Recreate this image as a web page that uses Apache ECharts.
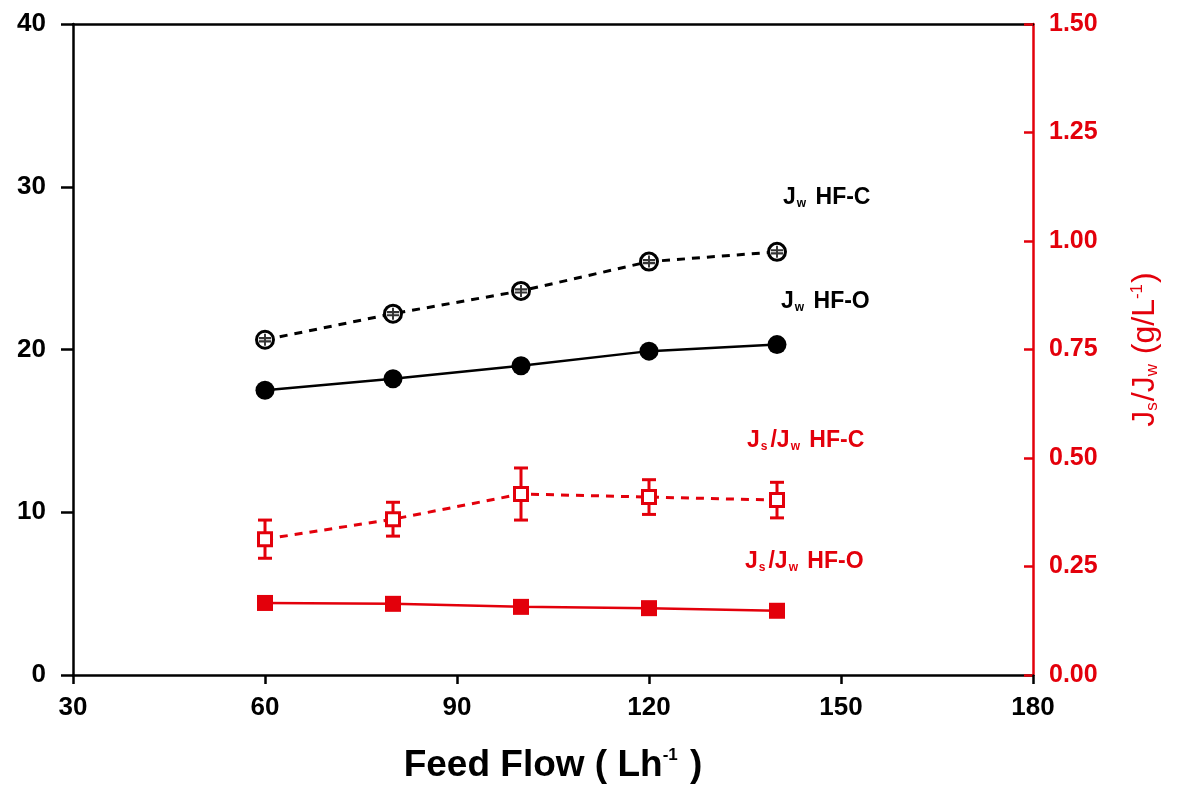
<!DOCTYPE html>
<html>
<head>
<meta charset="utf-8">
<script src="https://cdn.jsdelivr.net/npm/echarts@6/dist/echarts.min.js"></script>
<style>
html,body{margin:0;padding:0;background:#fff;}
#chart{width:1184px;height:787px;}
</style>
</head>
<body>
<div id="chart"></div>
<script>
// ---- data ----
var feedFlow = [60, 80, 100, 120, 140];
var jwHFC = [20.6, 22.2, 23.6, 25.4, 26.0];
var jwHFO = [17.5, 18.2, 19.0, 19.9, 20.3];
var jsjwHFC = [0.313, 0.359, 0.417, 0.410, 0.403];
var jsjwHFCerr = [0.044, 0.039, 0.060, 0.040, 0.041];
var jsjwHFO = [0.166, 0.164, 0.157, 0.154, 0.148];
var xTicks = [30, 60, 90, 120, 150, 180];
var yLeftTicks = [0, 10, 20, 30, 40];
var yRightTicks = [0, 0.25, 0.5, 0.75, 1.0, 1.25, 1.5];

var RED = '#e3000b';
var FONT = '"Liberation Sans", Arial, sans-serif';

function pairs(xs, ys) { return xs.map(function (x, i) { return [x, ys[i]]; }); }
var errData = feedFlow.map(function (x, i) {
  return [x, jsjwHFC[i] - jsjwHFCerr[i], jsjwHFC[i] + jsjwHFCerr[i]];
});

function annot(left, top, parts, color) {
  return { type: 'text', left: left, top: top, style: {
    text: parts,
    rich: {
      t: { fontSize: 23, fontWeight: 'bold', fontFamily: FONT, fill: color },
      s: { fontSize: 12, fontWeight: 'bold', fontFamily: FONT, fill: color, verticalAlign: 'bottom', padding: [12, 3, 0, 1] }
    } } };
}

var chart = echarts.init(document.getElementById('chart'));
var option = {
  backgroundColor: '#fff',
  animation: false,
  grid: { left: 73, right: 151, top: 24, bottom: 112, containLabel: false, outerBoundsMode: 'none' },
  xAxis: [{
    type: 'value', min: xTicks[0], max: xTicks[xTicks.length - 1], interval: 30,
    axisLine: { show: true, onZero: false, lineStyle: { color: '#000', width: 2.5 } },
    axisTick: { show: true, inside: false, length: 9, lineStyle: { color: '#000', width: 2.5 } },
    splitLine: { show: false },
    axisLabel: { color: '#000', fontSize: 26, fontWeight: 'bold', fontFamily: FONT, margin: 20 },
    name: '{t|Feed Flow ( Lh}{s|-1}{t| )}',
    nameLocation: 'middle', nameGap: 72,
    nameTextStyle: {
      rich: {
        t: { fontSize: 37, fontWeight: 'bold', fontFamily: FONT, color: '#000' },
        s: { fontSize: 17, fontWeight: 'bold', fontFamily: FONT, color: '#000', verticalAlign: 'top', padding: [0, 2, 18, 0] }
      }
    }
  }, {
    type: 'value', position: 'top', min: 30, max: 180, interval: 30,
    axisLine: { show: true, onZero: false, lineStyle: { color: '#000', width: 2.5 } },
    axisTick: { show: false }, axisLabel: { show: false }, splitLine: { show: false }
  }],
  yAxis: [{
    type: 'value', min: yLeftTicks[0], max: yLeftTicks[yLeftTicks.length - 1], interval: 10,
    position: 'left',
    axisLine: { show: true, onZero: false, lineStyle: { color: '#000', width: 2.5 } },
    axisTick: { show: true, inside: false, length: 12, lineStyle: { color: '#000', width: 2.5 } },
    splitLine: { show: false },
    axisLabel: { color: '#000', fontSize: 26, fontWeight: 'bold', fontFamily: FONT, margin: 27 }
  }, {
    type: 'value', min: yRightTicks[0], max: yRightTicks[yRightTicks.length - 1], interval: 0.25,
    position: 'right',
    axisLine: { show: true, onZero: false, lineStyle: { color: RED, width: 2.5 } },
    axisTick: { show: true, inside: true, length: 9, lineStyle: { color: RED, width: 2.5 } },
    splitLine: { show: false },
    axisLabel: { color: RED, fontSize: 25, fontWeight: 'bold', fontFamily: FONT, margin: 16,
      formatter: function (v) { return v.toFixed(2); } },
    name: '{t|J}{s|s}{t|/J}{s|w}{t| (g/L}{p|-1}{t|)}',
    nameLocation: 'middle', nameGap: 96, nameRotate: 90,
    nameTextStyle: {
      rich: {
        t: { fontSize: 32, fontFamily: FONT, color: RED },
        s: { fontSize: 17, fontFamily: FONT, color: RED, verticalAlign: 'bottom', padding: [14, 1, 0, 0] },
        p: { fontSize: 17, fontFamily: FONT, color: RED, verticalAlign: 'top', padding: [0, 1, 14, 0] }
      }
    }
  }],
  series: [
    {
      name: 'Jw HF-C', type: 'line', xAxisIndex: 0, yAxisIndex: 0,
      data: pairs(feedFlow, jwHFC),
      symbol: 'circle', symbolSize: 17,
      lineStyle: { color: '#000', width: 3, type: [8, 7] },
      itemStyle: { color: '#fff', borderColor: '#000', borderWidth: 3 },
      z: 3
    },
    {
      name: 'Jw HF-C pattern', type: 'scatter', xAxisIndex: 0, yAxisIndex: 0,
      data: pairs(feedFlow, jwHFC),
      symbol: 'path://M0,2.8h10v1.8h-10z M0,5.4h10v1.8h-10z M4.2,0h1.6v10h-1.6z',
      symbolSize: 12,
      itemStyle: { color: '#000' },
      z: 4
    },
    {
      name: 'Jw HF-O', type: 'line', xAxisIndex: 0, yAxisIndex: 0,
      data: pairs(feedFlow, jwHFO),
      symbol: 'circle', symbolSize: 19,
      lineStyle: { color: '#000', width: 2.5 },
      itemStyle: { color: '#000' },
      z: 3
    },
    {
      name: 'Js/Jw HF-C err', type: 'custom', xAxisIndex: 0, yAxisIndex: 1,
      data: errData,
      renderItem: function (params, api) {
        var lo = api.coord([api.value(0), api.value(1)]);
        var hi = api.coord([api.value(0), api.value(2)]);
        var w = 7;
        var st = { stroke: RED, lineWidth: 3 };
        return {
          type: 'group', children: [
            { type: 'line', shape: { x1: lo[0], y1: lo[1], x2: hi[0], y2: hi[1] }, style: st },
            { type: 'line', shape: { x1: lo[0] - w, y1: lo[1], x2: lo[0] + w, y2: lo[1] }, style: st },
            { type: 'line', shape: { x1: hi[0] - w, y1: hi[1], x2: hi[0] + w, y2: hi[1] }, style: st }
          ]
        };
      },
      z: 2
    },
    {
      name: 'Js/Jw HF-C', type: 'line', xAxisIndex: 0, yAxisIndex: 1,
      data: pairs(feedFlow, jsjwHFC),
      symbol: 'rect', symbolSize: 13,
      lineStyle: { color: RED, width: 3, type: [8, 7] },
      itemStyle: { color: '#fff', borderColor: RED, borderWidth: 3 },
      z: 3
    },
    {
      name: 'Js/Jw HF-O', type: 'line', xAxisIndex: 0, yAxisIndex: 1,
      data: pairs(feedFlow, jsjwHFO),
      symbol: 'rect', symbolSize: 16,
      lineStyle: { color: RED, width: 2.5 },
      itemStyle: { color: RED },
      z: 3
    }
  ],
  graphic: [
    annot(783, 186, '{t|J}{s|w}{t| HF-C}', '#000'),
    annot(781, 290, '{t|J}{s|w}{t| HF-O}', '#000'),
    annot(747, 429, '{t|J}{s|s}{t|/J}{s|w}{t| HF-C}', RED),
    annot(745, 550, '{t|J}{s|s}{t|/J}{s|w}{t| HF-O}', RED)
  ]
};
chart.setOption(option);
</script>
</body>
</html>
